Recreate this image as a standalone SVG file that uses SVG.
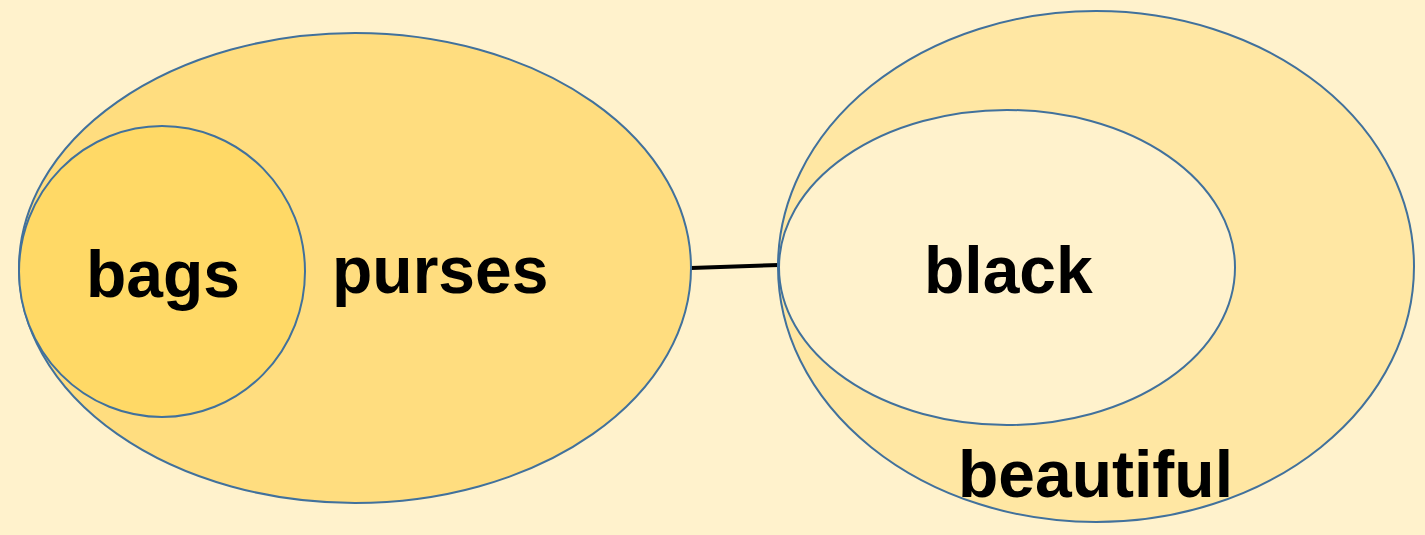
<svg xmlns="http://www.w3.org/2000/svg" width="1425" height="535" viewBox="0 0 1425 535">
  <style>
    .set { stroke: #41719C; stroke-width: 2; }
    .label { font-family: "Liberation Sans", Arial, sans-serif; font-weight: bold; font-size: 66px; fill: #000000; }
    .link { stroke: #000000; stroke-width: 4; fill: none; }
  </style>
  <rect width="1425" height="535" fill="#FFF2CC"/>
  <g id="connectors">
    <line class="link" x1="691" y1="268" x2="779" y2="265"/>
  </g>
  <g id="purses">
    <ellipse class="set" cx="355" cy="268" rx="336" ry="235" fill="#FFDD7F"/>
    <text class="label" x="332" y="293">purses</text>
  </g>
  <g id="bags">
    <ellipse class="set" cx="162" cy="271.5" rx="143" ry="145.5" fill="#FFD966"/>
    <text class="label" x="86" y="297">bags</text>
  </g>
  <g id="beautiful">
    <ellipse class="set" cx="1096" cy="266.5" rx="318" ry="255.5" fill="#FFE7A3"/>
    <text class="label" x="958" y="497">beautiful</text>
  </g>
  <g id="black">
    <ellipse class="set" cx="1007" cy="267.5" rx="228" ry="157.5" fill="#FFF2CC"/>
    <text class="label" x="924" y="293">black</text>
  </g>
</svg>
